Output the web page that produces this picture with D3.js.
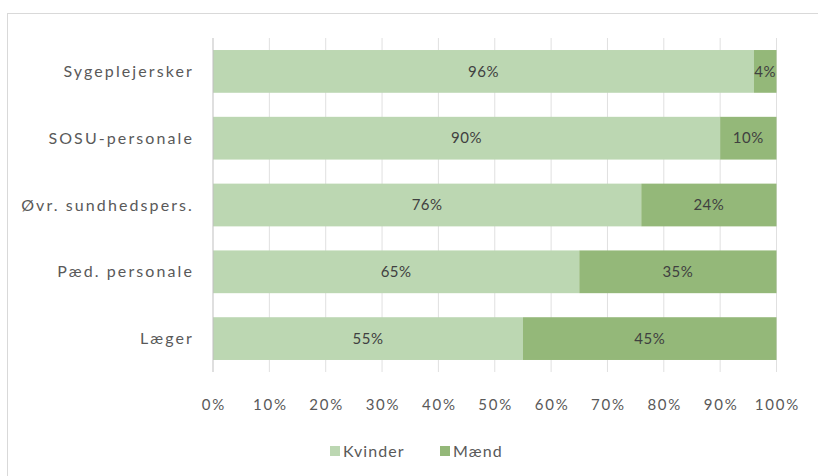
<!DOCTYPE html>
<html>
<head>
<meta charset="utf-8">
<script src="https://cdn.jsdelivr.net/npm/d3@7"></script>
<style>
  body { margin: 0; background: #fff; }
  svg { font-family: Lato, "Liberation Sans", sans-serif; }
</style>
</head>
<body>
<div id="chart"></div>
<script>
// Kønsfordeling pr. faggruppe (100% stacked)
const categories = ["Sygeplejersker", "SOSU-personale", "Øvr. sundhedspers.", "Pæd. personale", "Læger"];
const kvinder = [96, 90, 76, 65, 55];
const maend = [4, 10, 24, 35, 45];
const seriesNames = ["Kvinder", "Mænd"];
const xTicks = [0, 10, 20, 30, 40, 50, 60, 70, 80, 90, 100];

const width = 818, height = 476;
const colors = ["#bcd7b2", "#94b879"];

const svg = d3.select("#chart").append("svg")
  .attr("width", width)
  .attr("height", height);

// chart frame
svg.append("rect")
  .attr("x", 7.5).attr("y", 13.5)
  .attr("width", 820).attr("height", 480)
  .attr("fill", "#fff")
  .attr("stroke", "#d9d9d9");

const x = d3.scaleLinear().domain([0, 100]).range([213, 776.5]);
const y = d3.scaleBand().domain(categories).range([38, 372]).paddingInner(0.36).paddingOuter(0.18);

// gridlines
svg.append("g")
  .selectAll("line")
  .data(xTicks.slice(1))
  .join("line")
  .attr("x1", d => x(d)).attr("x2", d => x(d))
  .attr("y1", 38).attr("y2", 372)
  .attr("stroke", "#e0e0e0")
  .attr("stroke-width", 1);

const rows = categories.map((c, i) => ({ cat: c, vals: [kvinder[i], maend[i]] }));
const stacked = d3.stack().keys([0, 1]).value((d, k) => d.vals[k])(rows);

stacked.forEach((layer, k) => {
  const g = svg.append("g");
  g.selectAll("rect")
    .data(layer)
    .join("rect")
    .attr("x", d => x(d[0]))
    .attr("y", d => y(d.data.cat))
    .attr("width", d => x(d[1]) - x(d[0]))
    .attr("height", y.bandwidth())
    .attr("fill", colors[k]);
  g.selectAll("text")
    .data(layer)
    .join("text")
    .attr("x", d => (x(d[0]) + x(d[1])) / 2)
    .attr("y", d => y(d.data.cat) + y.bandwidth() / 2)
    .attr("dy", "0.35em")
    .attr("text-anchor", "middle")
    .attr("font-size", 15)
    .attr("letter-spacing", 0.5)
    .attr("fill", "#404040")
    .text(d => (d[1] - d[0]) + "%");
});

// vertical category axis line
svg.append("line")
  .attr("x1", x(0)).attr("x2", x(0))
  .attr("y1", 38).attr("y2", 372)
  .attr("stroke", "#bfbfbf");

// category labels
svg.append("g")
  .selectAll("text")
  .data(categories)
  .join("text")
  .attr("x", 194)
  .attr("y", d => y(d) + y.bandwidth() / 2)
  .attr("dy", "0.35em")
  .attr("text-anchor", "end")
  .attr("font-size", 16)
  .attr("letter-spacing", 2.1)
  .attr("fill", "#595959")
  .text(d => d);

// x tick labels
svg.append("g")
  .selectAll("text")
  .data(xTicks)
  .join("text")
  .attr("x", d => x(d) + 1)
  .attr("y", 405)
  .attr("dy", "0.35em")
  .attr("text-anchor", "middle")
  .attr("font-size", 15)
  .attr("letter-spacing", 1.8)
  .attr("fill", "#595959")
  .text(d => d + "%");

// legend
const legendX = [330, 440];
const legend = svg.append("g");
seriesNames.forEach((name, i) => {
  legend.append("rect")
    .attr("x", legendX[i]).attr("y", 446)
    .attr("width", 10).attr("height", 10)
    .attr("fill", colors[i]);
  legend.append("text")
    .attr("x", legendX[i] + 13).attr("y", 451)
    .attr("dy", "0.35em")
    .attr("font-size", 16)
    .attr("letter-spacing", 1.1)
    .attr("fill", "#595959")
    .text(name);
});
</script>
</body>
</html>
